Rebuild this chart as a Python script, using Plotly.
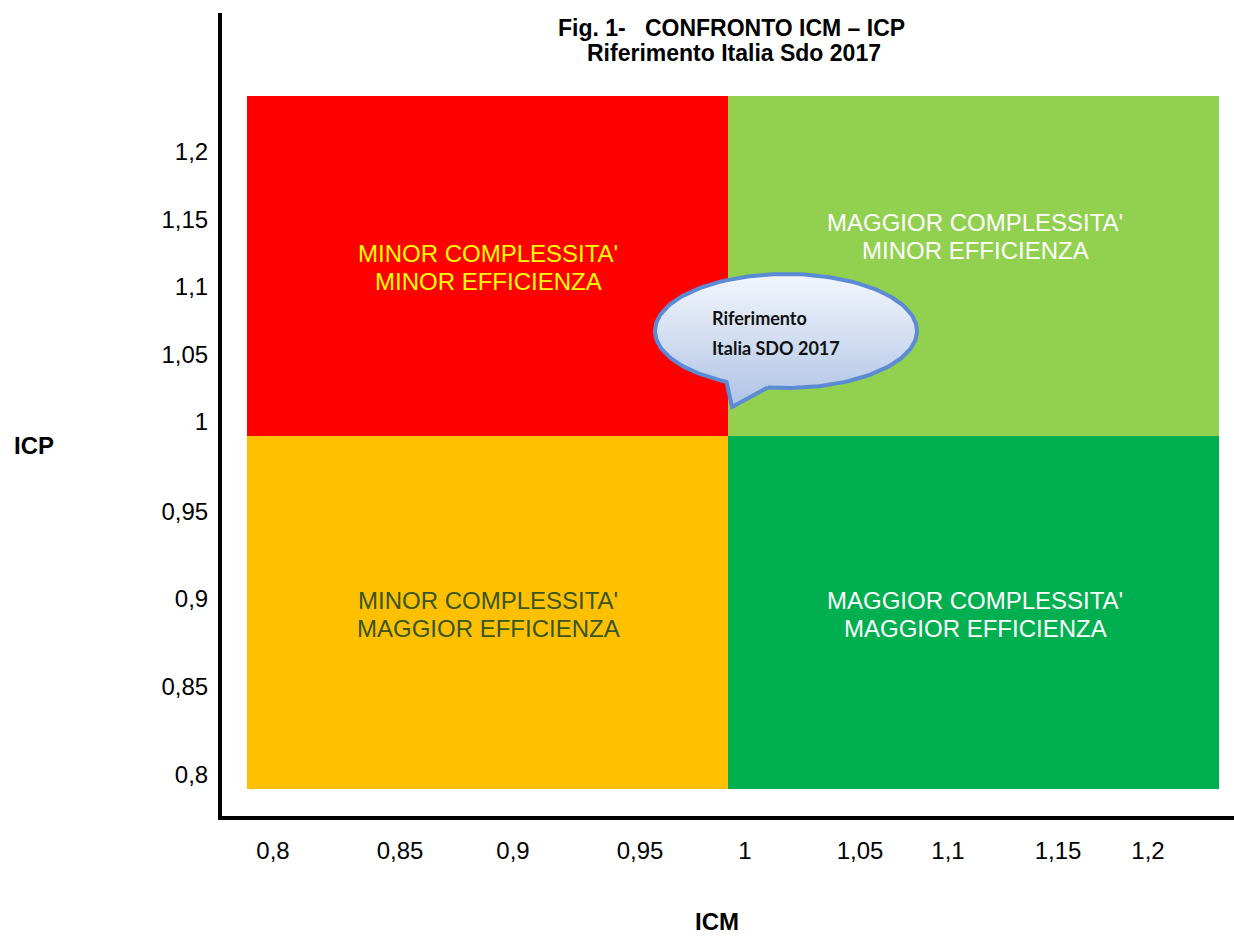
import numpy as np
import plotly.graph_objects as go

# ---------------- data ----------------
title_lines = ["Fig. 1-   CONFRONTO ICM – ICP", "Riferimento Italia Sdo 2017"]
x_title = "ICM"
y_title = "ICP"
x_tick_labels = ["0,8", "0,85", "0,9", "0,95", "1", "1,05", "1,1", "1,15", "1,2"]
y_tick_labels = ["1,2", "1,15", "1,1", "1,05", "1", "0,95", "0,9", "0,85", "0,8"]
quadrant_labels = [
    ["MINOR COMPLESSITA'", "MINOR EFFICIENZA"],
    ["MAGGIOR COMPLESSITA'", "MINOR EFFICIENZA"],
    ["MINOR COMPLESSITA'", "MAGGIOR EFFICIENZA"],
    ["MAGGIOR COMPLESSITA'", "MAGGIOR EFFICIENZA"],
]
callout_lines = ["Riferimento", "Italia SDO 2017"]

# ---------------- layout constants (positions / styles) ----------------
W, H = 1234, 936
L, R, T, B = 222, 0, 13, 120
x_tick_pos = [273, 400, 513, 640, 745, 860, 948, 1058, 1148]
y_tick_pos = [152, 220, 287, 355, 422, 512, 599, 687, 775]
qx = [247, 728, 1219]
qy = [96, 436, 789]
quad_colors = ["#FF0000", "#92D050", "#FFC000", "#00B050"]
quad_text_colors = ["#FFFF00", "#FFFFFF", "#375623", "#FFFFFF"]
quad_text_pos = [(488, 253), (975, 222), (488, 600), (975, 600)]
LINE_GAP = 28
FONT = "Liberation Sans, Arial, sans-serif"

fig = go.Figure()

# quadrants
quads = [(qx[0], qy[0], qx[1], qy[1]), (qx[1], qy[0], qx[2], qy[1]),
         (qx[0], qy[1], qx[1], qy[2]), (qx[1], qy[1], qx[2], qy[2])]
for (x0, y0, x1, y1), c in zip(quads, quad_colors):
    fig.add_shape(type="rect", xref="x", yref="y", x0=x0, y0=y0, x1=x1, y1=y1,
                  fillcolor=c, line=dict(width=0), layer="below")

for lines, col, (tx, ty) in zip(quadrant_labels, quad_text_colors, quad_text_pos):
    for i, txt in enumerate(lines):
        fig.add_annotation(x=tx, y=ty + i * LINE_GAP, xref="x", yref="y", text=txt,
                           showarrow=False,
                           font=dict(family=FONT, size=24, color=col))

# callout bubble (speech balloon)
cx, cy, rx, ry = 786, 331, 131, 57
th = np.radians(np.linspace(98, 117 - 360, 200))
bx = list(cx + rx * np.cos(th)) + [732]
by = list(cy + ry * np.sin(th)) + [407]
bx.append(bx[0]); by.append(by[0])
fig.add_trace(go.Scatter(
    x=bx, y=by, mode="lines", fill="toself",
    line=dict(color="#5B8BD4", width=4),
    fillgradient=dict(type="vertical",
                      colorscale=[[0, "#AFC3E5"], [1, "#F3F6FC"]]),
    hoverinfo="skip", showlegend=False))
for i, txt in enumerate(callout_lines):
    fig.add_annotation(x=710, y=318 + i * 30, xref="x", yref="y", text="<b>%s</b>" % txt,
                       showarrow=False, xanchor="left",
                       font=dict(family="Lato, Open Sans, sans-serif", size=18, color="#111111"))

# titles
for txt, (tx, ty) in zip(title_lines, [(731, 28), (734, 53)]):
    fig.add_annotation(x=tx, y=ty, xref="x", yref="y", text="<b>%s</b>" % txt,
                       showarrow=False, font=dict(family=FONT, size=23, color="#000"))

# axis titles (pixel offsets from plot-area edges)
fig.add_annotation(x=0, y=1 - (445 - T) / (H - T - B), xref="paper", yref="paper",
                   xshift=32 - L - 20, text="<b>%s</b>" % y_title, showarrow=False,
                   font=dict(family=FONT, size=24, color="#000"))
fig.add_annotation(x=(717 - L) / (W - L - R), y=0, xref="paper", yref="paper",
                   yshift=-(922 - (H - B)) - 15, text="<b>%s</b>" % x_title, showarrow=False,
                   font=dict(family=FONT, size=24, color="#000"))

fig.update_layout(
    width=W, height=H,
    margin=dict(l=L, r=R, t=T, b=B, pad=0),
    paper_bgcolor="white", plot_bgcolor="white",
    showlegend=False,
    xaxis=dict(range=[L, W - R], showgrid=False, zeroline=False, fixedrange=True,
               showline=True, linewidth=4, linecolor="black",
               tickvals=x_tick_pos, ticktext=x_tick_labels, ticks="",
               ticklabelstandoff=10,
               tickfont=dict(family=FONT, size=24, color="#000")),
    yaxis=dict(range=[H - B, T], showgrid=False, zeroline=False, fixedrange=True,
               showline=True, linewidth=4, linecolor="black",
               tickvals=y_tick_pos, ticktext=y_tick_labels, ticks="",
               ticklabelstandoff=5,
               tickfont=dict(family=FONT, size=24, color="#000")),
)

fig.write_html("out.html", config={"displayModeBar": False},
               post_script="document.body.style.margin='0';document.body.style.overflow='hidden';")
